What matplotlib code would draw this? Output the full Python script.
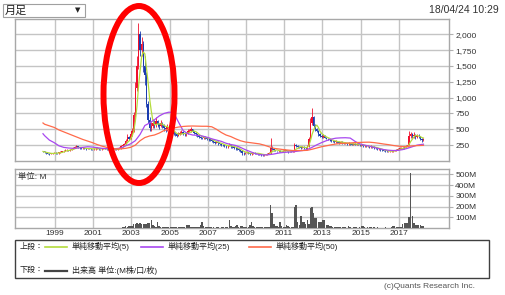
import matplotlib
matplotlib.use("Agg")
import matplotlib.pyplot as plt
from matplotlib.lines import Line2D
from matplotlib.patches import Ellipse, Rectangle
import numpy as np
import pandas as pd

plt.rcParams["font.family"] = ["Liberation Sans", "Noto Sans CJK JP", "DejaVu Sans"]

W, H = 505, 295

# --- datos mensuales (may-1998 .. abr-2018) ---
first_month = "1998-05"
first_open = 160
close = [
    150, 135, 125, 115, 110, 120, 125, 130,
    125, 120, 135, 145, 150, 165, 170, 175, 165, 180, 190, 205,
    220, 235, 215, 205, 200, 205, 195, 190, 200, 195, 190, 185,
    190, 195, 205, 190, 185, 190, 200, 195, 185, 180, 185, 190,
    185, 190, 180, 190, 200, 235, 250, 270, 320, 380, 350, 420,
    480, 720, 1150, 1500, 2000, 1750, 1850, 1500, 1350, 900, 650, 520,
    550, 600, 560, 630, 580, 550, 600, 560, 520, 500, 540, 520,
    480, 450, 430, 420, 400, 420, 440, 460, 430, 420, 430, 470,
    480, 500, 470, 440, 420, 400, 380, 370, 360, 380, 370, 350,
    340, 330, 320, 300, 290, 300, 280, 270, 260, 250, 240, 230,
    240, 250, 230, 220, 210, 200, 190, 180, 160, 130, 120, 130,
    140, 120, 110, 120, 130, 125, 120, 110, 105, 100, 95, 100,
    100, 110, 120, 210, 190, 170, 160, 150, 160, 155, 150, 160,
    170, 160, 150, 150, 145, 150, 250, 240, 220, 215, 210, 220,
    210, 200, 230, 350, 600, 700, 550, 500, 480, 420, 400, 380,
    400, 370, 350, 340, 330, 320, 310, 300, 310, 300, 290, 300,
    290, 280, 280, 270, 280, 270, 260, 270, 260, 270, 260, 250,
    250, 240, 240, 230, 230, 220, 230, 220, 210, 200, 190, 190,
    180, 170, 165, 160, 150, 150, 155, 160, 160, 170, 180, 190,
    200, 210, 205, 215, 230, 260, 400, 430, 390, 410, 380, 400,
    390, 350, 330, 345,
]
high = [
    165, 155, 140, 130, 120, 125, 130, 140,
    140, 130, 145, 155, 165, 175, 185, 185, 180, 190, 205, 220,
    240, 250, 240, 220, 215, 215, 210, 200, 210, 205, 200, 195,
    200, 205, 215, 210, 195, 200, 210, 205, 200, 190, 195, 200,
    200, 200, 195, 200, 215, 250, 270, 290, 340, 420, 400, 440,
    520, 780, 1250, 1650, 2170, 2050, 1950, 1900, 1650, 1400, 950, 700,
    620, 660, 640, 700, 650, 600, 640, 610, 580, 540, 580, 560,
    540, 500, 470, 450, 440, 450, 470, 490, 470, 450, 460, 500,
    510, 530, 510, 480, 450, 430, 410, 390, 380, 400, 390, 380,
    370, 350, 345, 330, 310, 320, 310, 290, 280, 270, 260, 250,
    260, 280, 260, 240, 230, 220, 210, 200, 190, 170, 140, 145,
    155, 145, 125, 135, 145, 140, 130, 125, 115, 110, 105, 110,
    110, 120, 135, 360, 230, 195, 180, 165, 170, 170, 165, 170,
    185, 175, 165, 160, 155, 160, 290, 275, 245, 230, 225, 240,
    230, 220, 250, 380, 680, 830, 710, 580, 520, 490, 440, 420,
    430, 410, 380, 360, 350, 340, 330, 320, 330, 320, 310, 315,
    310, 300, 295, 290, 300, 290, 280, 285, 280, 285, 280, 270,
    270, 260, 255, 250, 245, 240, 245, 240, 230, 220, 210, 205,
    200, 190, 180, 175, 170, 160, 165, 170, 170, 180, 195, 205,
    215, 225, 220, 230, 250, 280, 470, 460, 440, 450, 420, 420,
    420, 400, 360, 360,
]
low = [
    140, 130, 115, 108, 100, 105, 115, 120,
    115, 110, 115, 130, 140, 145, 160, 160, 155, 160, 175, 185,
    200, 210, 205, 195, 190, 195, 185, 180, 185, 185, 180, 175,
    175, 180, 190, 180, 175, 180, 185, 185, 175, 170, 175, 180,
    175, 175, 170, 175, 185, 195, 225, 240, 260, 310, 330, 340,
    400, 460, 700, 1100, 1450, 1650, 1650, 1400, 1200, 850, 600, 480,
    480, 520, 520, 540, 540, 500, 530, 520, 480, 460, 480, 480,
    460, 430, 410, 400, 380, 390, 410, 430, 410, 400, 400, 420,
    450, 460, 450, 420, 400, 380, 360, 350, 340, 350, 350, 330,
    320, 310, 300, 280, 270, 280, 260, 250, 240, 230, 220, 210,
    210, 230, 210, 200, 190, 180, 175, 160, 140, 100, 90, 105,
    120, 110, 95, 100, 115, 110, 105, 100, 90, 85, 80, 85,
    90, 95, 105, 115, 170, 155, 150, 140, 145, 145, 140, 145,
    155, 150, 130, 140, 135, 140, 145, 220, 205, 200, 195, 200,
    195, 190, 195, 220, 340, 560, 520, 470, 450, 400, 380, 360,
    370, 360, 340, 330, 315, 305, 295, 285, 290, 285, 275, 280,
    275, 270, 265, 255, 260, 255, 245, 250, 245, 250, 245, 235,
    235, 225, 225, 215, 215, 205, 210, 205, 195, 185, 175, 175,
    165, 160, 150, 145, 135, 140, 140, 145, 145, 155, 165, 175,
    185, 190, 190, 195, 210, 220, 250, 370, 360, 370, 350, 360,
    370, 330, 300, 320,
]
volume = [  # millones
    1, 1, 1, 1, 1, 1, 1, 1,
    1, 1, 2, 1, 1, 2, 2, 1, 1, 2, 1, 1,
    2, 2, 1, 1, 1, 1, 1, 1, 1, 1, 1, 1,
    1, 1, 1, 1, 1, 1, 1, 1, 1, 1, 1, 1,
    1, 1, 1, 1, 2, 3, 8, 10, 15, 12, 20, 15,
    20, 35, 40, 45, 40, 42, 38, 35, 40, 38, 42, 45,
    75, 30, 15, 10, 60, 15, 8, 10, 6, 8, 12, 6,
    8, 6, 10, 5, 6, 5, 8, 6, 5, 10, 25, 30,
    25, 10, 8, 6, 5, 8, 10, 30, 55, 20, 8, 6,
    5, 8, 6, 5, 4, 6, 5, 4, 6, 5, 4, 6,
    10, 75, 20, 10, 8, 15, 30, 12, 20, 15, 10, 8,
    8, 10, 30, 55, 20, 10, 8, 6, 8, 5, 6, 5,
    5, 8, 10, 216, 140, 40, 20, 15, 12, 60, 15, 10,
    8, 25, 20, 8, 6, 10, 200, 215, 60, 30, 110, 60,
    60, 40, 75, 40, 190, 200, 140, 90, 90, 60, 60, 60,
    75, 70, 30, 30, 20, 15, 12, 10, 8, 10, 8, 6,
    5, 6, 5, 4, 15, 5, 4, 5, 6, 5, 4, 5,
    20, 15, 5, 4, 5, 6, 5, 4, 5, 4, 5, 4,
    4, 3, 4, 5, 4, 3, 4, 5, 20, 15, 8, 6,
    5, 8, 40, 42, 45, 42, 105, 515, 113, 42, 30, 25,
    30, 25, 20, 15,
]
# medias 25/50 (may-98, luego cada 3 meses desde jun-98, y abr-18)
ma25 = [
    430,
    400, 330,
    290, 240, 215, 205,
    200, 205, 215, 225,
    220, 210, 200, 195,
    193, 195, 205, 240,
    270, 320, 420, 560,
    600, 650, 710, 750,
    770, 765, 620, 480,
    430, 410, 405, 395,
    375, 350, 330, 310,
    280, 260, 245, 215,
    180, 150, 120, 100,
    95, 100, 110, 125,
    135, 140, 145, 155,
    165, 180, 215, 255,
    290, 320, 345, 360,
    365, 367, 362, 310,
    270, 250, 235, 215,
    195, 180, 170, 165,
    168, 180, 200, 225,
    250, 262,
    265,
]
ma50 = [
    600,
    580, 555,
    530, 490, 460, 430,
    400, 370, 340, 315,
    290, 260, 235, 215,
    200, 192, 192, 200,
    215, 250, 320, 370,
    395, 410, 440, 480,
    505, 520, 535, 545,
    550, 552, 550, 548,
    548, 540, 500, 450,
    410, 385, 350, 320,
    300, 290, 280, 270,
    250, 225, 200, 190,
    180, 172, 165, 165,
    165, 168, 185, 205,
    225, 240, 255, 268,
    275, 280, 285, 290,
    293, 296, 297, 290,
    280, 268, 258, 245,
    235, 228, 230, 238,
    243, 246,
    247,
]
year_ticks = list(range(1999, 2018, 2))
price_ticks = [250, 500, 750, 1000, 1250, 1500, 1750, 2000]
vol_ticks = [100, 200, 300, 400, 500]

months = pd.period_range(first_month, periods=len(close), freq="M")
mx = np.asarray(months.year + (months.month - 0.5) / 12, float)
c = np.asarray(close, float)
o = np.r_[first_open, c[:-1]]
ma5 = pd.Series(c).rolling(5, min_periods=1).mean().to_numpy()
ma_x = mx[np.r_[0, np.arange(1, len(mx), 3), len(mx) - 1]]

GRID = "#c4c4c4"
FRAME = "#a8a8a8"
C_UP, C_DN = "#f0102c", "#1a3cb0"
C5, C25, C50 = "#b4dc3c", "#a848f0", "#ff6a4a"


def fx(x):
    return x / W


def fy(y):
    return 1 - y / H


fig = plt.figure(figsize=(W / 100, H / 100), dpi=100)
ax1 = fig.add_axes([fx(15), fy(161), 434 / W, 142 / H])
ax2 = fig.add_axes([fx(15), fy(228), 434 / W, 59 / H])

for ax in (ax1, ax2):
    ax.set_xlim(1996.91, 2019.63)
    ax.set_xticks(year_ticks)
    ax.grid(True, color=GRID, lw=1)
    ax.set_axisbelow(True)
    for s in ax.spines.values():
        s.set_color(FRAME)
        s.set_linewidth(1)
    ax.yaxis.tick_right()
    ax.tick_params(axis="y", length=3, width=0.8, color="#b0b0b0", pad=1.5,
                   labelsize=6, labelcolor="#333333")
    ax.tick_params(axis="x", length=0)

# --- velas ---
up = c >= o
cols = np.where(up, C_UP, C_DN)
ax1.vlines(mx, low, high, colors=cols, lw=0.6, zorder=2)
body = np.maximum(np.abs(c - o), 6)
ax1.bar(mx, body, bottom=np.minimum(o, c), width=0.075, color=cols, lw=0, zorder=3)
ax1.plot(mx, ma5, color=C5, lw=0.9, zorder=4)
ax1.plot(ma_x, ma25, color=C25, lw=0.9, zorder=4)
ax1.plot(ma_x, ma50, color=C50, lw=0.9, zorder=4)
ax1.set_ylim(0, 2240)
ax1.set_yticks(price_ticks)
ax1.set_yticklabels([f"{v:,}" for v in price_ticks])
ax1.set_xticklabels([])

# --- volumen ---
ax2.bar(mx, volume, width=0.075, color="#555555", lw=0, zorder=3)
ax2.set_ylim(0, 550)
ax2.set_yticks(vol_ticks)
ax2.set_yticklabels([f"{v}M" for v in vol_ticks])
ax2.set_xticklabels([str(y) for y in year_ticks])
ax2.tick_params(axis="x", pad=1.5, labelsize=6, labelcolor="#333333")
ax2.text(0.008, 0.93, "単位: M", transform=ax2.transAxes, fontsize=6,
         va="top", ha="left", color="#333333")

# --- cabecera ---
fig.add_artist(Rectangle((fx(2.7), fy(17.3)), 82.3 / W, 13.3 / H, transform=fig.transFigure,
                         fc="white", ec="#a0a0a0", lw=0.8))
fig.text(fx(5), fy(11), "月足", fontsize=8, va="center", ha="left", color="#222222")
fig.text(fx(78), fy(10.5), "▼", fontsize=5, va="center", ha="center", color="#222222",
         family=["DejaVu Sans"])
fig.text(fx(499), fy(10), "18/04/24 10:29", fontsize=7.5, va="center", ha="right",
         color="#333333")

# --- leyenda ---
fig.add_artist(Rectangle((fx(15), fy(278)), 474 / W, 38 / H, transform=fig.transFigure,
                         fc="white", ec="#404040", lw=1))
ly1, ly2 = fy(246.5), fy(270.5)
fig.text(fx(20), ly1, "上段：", fontsize=5.8, va="center", ha="left", color="#222222")
fig.text(fx(20), ly2, "下段：", fontsize=5.8, va="center", ha="left", color="#222222")
legend_items = [(45, C5, "単純移動平均(5)"), (141, C25, "単純移動平均(25)"),
                (249, C50, "単純移動平均(50)")]
for x0, col, lab in legend_items:
    fig.add_artist(Line2D([fx(x0), fx(x0 + 22)], [ly1, ly1], transform=fig.transFigure,
                          color=col, lw=1.2))
    fig.text(fx(x0 + 27), ly1, lab, fontsize=5.8, va="center", ha="left", color="#222222")
fig.add_artist(Line2D([fx(45), fx(67)], [ly2, ly2], transform=fig.transFigure,
                      color="#444444", lw=1.6))
fig.text(fx(72), ly2, "出来高 単位:(M株/口/枚)", fontsize=5.8, va="center", ha="left",
         color="#222222")
fig.text(fx(475), fy(287), "(c)Quants Research Inc.", fontsize=6, va="center", ha="right",
         color="#555555")

# --- anotación: elipse roja ---
fig.add_artist(Ellipse((fx(139), fy(94.5)), 71 / W, 177 / H, transform=fig.transFigure,
                       fill=False, ec="#ff0000", lw=4.3, zorder=10))

fig.savefig("out.png", dpi=100)
